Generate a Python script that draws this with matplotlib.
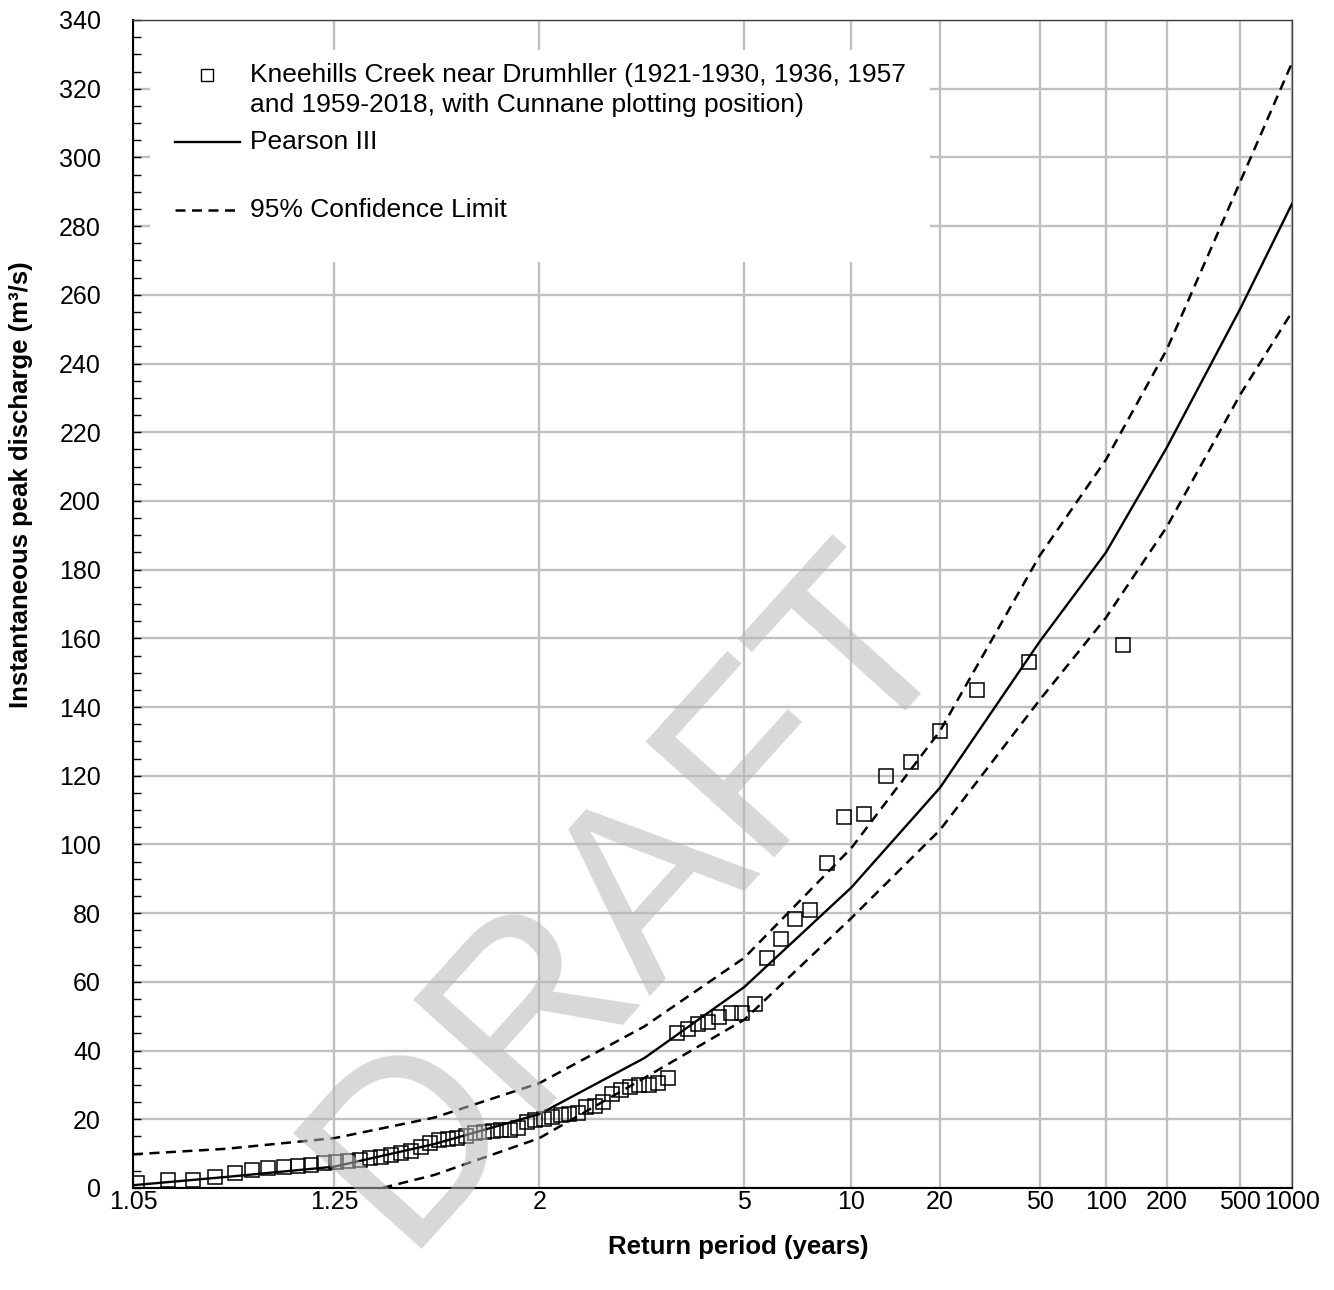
import numpy as np
import matplotlib
matplotlib.use("Agg")
import matplotlib.pyplot as plt
from matplotlib.patches import Rectangle
from matplotlib.ticker import MultipleLocator, NullLocator
from statistics import NormalDist

plt.rcParams['font.family'] = ['Liberation Sans', 'DejaVu Sans']

# Pearson III fit and 95% confidence limits
T_fit = [1.05, 1.11, 1.25, 1.5, 2, 3, 5, 10, 20, 50, 100, 200, 500, 1000]
q_fit = [0.8, 3.2, 6.2, 12.8, 21.5, 37.8, 58.5, 87.5, 116.5, 159, 185, 215.5, 256, 286.5]
q_upper = [9.8, 11.4, 14.5, 20.5, 30.5, 47, 67, 99, 133, 184, 212, 244, 293, 327.5]
T_lower = [1.25, 1.5, 2, 3, 5, 10, 20, 50, 100, 200, 500, 1000]
q_lower = [-3.5, 3.8, 14.5, 32, 49, 78.6, 104.2, 142, 166, 192.4, 231, 255]

# observed annual peaks (Cunnane plotting positions)
T_obs = [120.3, 45.13, 27.77, 20.06, 15.70, 12.89, 10.94, 9.500, 8.395, 7.521,
         6.811, 6.224, 5.730, 5.309, 4.945, 4.628, 4.349, 4.102, 3.882, 3.684,
         3.505, 3.343, 3.195, 3.059, 2.935, 2.820, 2.714, 2.616, 2.524, 2.439,
         2.359, 2.285, 2.215, 2.149, 2.087, 2.028, 1.973, 1.920, 1.870, 1.823,
         1.778, 1.736, 1.695, 1.656, 1.619, 1.583, 1.549, 1.517, 1.486, 1.456,
         1.427, 1.399, 1.373, 1.347, 1.322, 1.299, 1.276, 1.253, 1.232, 1.211,
         1.191, 1.172, 1.153, 1.135, 1.118, 1.101, 1.084, 1.068, 1.052]
q_obs = [158, 153, 145, 133, 124, 120, 109, 108, 94.5, 81,
         78.3, 72.5, 66.9, 53.5, 51, 50.8, 49.9, 48.4, 47.8, 46.2,
         45.2, 31.9, 30.6, 30.1, 30, 29.5, 28.5, 27.4, 25.1, 23.8,
         23.6, 21.8, 21.4, 21.3, 20.8, 20.2, 19.8, 19.3, 17.4, 16.8,
         16.8, 16.6, 16.4, 16, 15.1, 14.5, 14.2, 14, 13, 12,
         10.8, 10.1, 9.6, 9.1, 8.6, 8.1, 7.8, 7.5, 7.2, 6.7,
         6.3, 6.1, 5.8, 5.2, 4.4, 3.3, 2.3, 2.3, 1.5]

x_ticks = [1.05, 1.25, 2, 5, 10, 20, 50, 100, 200, 500, 1000]
x_ticklabels = ['1.05', '1.25', '2', '5', '10', '20', '50', '100', '200', '500', '1000']

nd = NormalDist()
_inv = np.vectorize(nd.inv_cdf, otypes=[float])
_cdf = np.vectorize(nd.cdf, otypes=[float])


def forward(T):
    # return period -> standard normal variate (normal probability paper)
    T = np.asarray(T, dtype=float)
    with np.errstate(divide='ignore', invalid='ignore'):
        p = 1.0 - 1.0 / T
    p = np.where(np.isfinite(p), p, 1e-9)
    p = np.clip(p, 1e-9, 1 - 1e-9)
    return _inv(p)


def inverse(z):
    z = np.asarray(z, dtype=float)
    p = np.clip(_cdf(z), 0, 1 - 1e-12)
    return 1.0 / (1.0 - p)


fig = plt.figure(figsize=(13.34, 12.90), dpi=100)
ax = fig.add_axes([0.0997, 0.0791, 0.8688, 0.9054])
ax.set_xscale('function', functions=(forward, inverse))

grid_c = '#c0c0c0'
ax.set_axisbelow(True)
ax.grid(True, which='major', color=grid_c, linewidth=1.7)

dash = (0, (4, 2.6))
ax.plot(T_fit, q_fit, color='black', linewidth=1.7, zorder=3)
ax.plot(T_fit, q_upper, color='black', linewidth=1.8, linestyle=dash, zorder=3)
ax.plot(T_lower, q_lower, color='black', linewidth=1.8, linestyle=dash, zorder=3)
ax.plot(T_obs, q_obs, linestyle='none', marker='s', markersize=9.5,
        markerfacecolor='none', markeredgecolor='black', markeredgewidth=1.1, zorder=4)

ax.set_xlim(1.05, 1000)
ax.set_ylim(0, 340)
ax.set_xticks(x_ticks)
ax.set_xticklabels(x_ticklabels)
ax.xaxis.set_minor_locator(NullLocator())
ax.yaxis.set_major_locator(MultipleLocator(20))
ax.yaxis.set_minor_locator(MultipleLocator(5))
ax.tick_params(axis='x', length=0, pad=1.5, labelsize=18)
ax.tick_params(axis='y', which='major', direction='in', length=6, width=1, pad=23, labelsize=18)
ax.tick_params(axis='y', which='minor', direction='in', length=6, width=1)

for s in ['left', 'bottom']:
    ax.spines[s].set_color('black')
    ax.spines[s].set_linewidth(1.5)
for s in ['top', 'right']:
    ax.spines[s].set_color('#404040')
    ax.spines[s].set_linewidth(1.0)

ax.set_xlabel('Return period (years)', fontsize=18.5, fontweight='bold')
ax.xaxis.set_label_coords(0.522, -0.040)
ax.set_ylabel('Instantaneous peak discharge (m³/s)', fontsize=18.5, fontweight='bold')
ax.yaxis.set_label_coords(-0.086, 0.602)

# legend (white box over the grid)
ax.add_patch(Rectangle((0.0147, 0.793), 0.673, 0.1815, transform=ax.transAxes,
                       facecolor='white', edgecolor='none', zorder=2.5))
ax.plot([0.0638], [0.9529], transform=ax.transAxes, marker='s', markersize=8,
        markerfacecolor='none', markeredgecolor='black', markeredgewidth=1.0, zorder=5)
ax.text(0.1010, 0.9400, 'Kneehills Creek near Drumhller (1921-1930, 1936, 1957\n'
        'and 1959-2018, with Cunnane plotting position)',
        transform=ax.transAxes, fontsize=19, va='center', ha='left', linespacing=1.31, zorder=5)
ax.plot([0.0362, 0.0923], [0.8955, 0.8955], transform=ax.transAxes,
        color='black', linewidth=1.7, zorder=5)
ax.text(0.1010, 0.8955, 'Pearson III', transform=ax.transAxes, fontsize=19,
        va='center', ha='left', zorder=5)
ax.plot([0.0362, 0.0923], [0.8373, 0.8373], transform=ax.transAxes,
        color='black', linewidth=1.8, linestyle=dash, zorder=5)
ax.text(0.1010, 0.8373, '95% Confidence Limit', transform=ax.transAxes, fontsize=19,
        va='center', ha='left', zorder=5)

# watermark
ax.text(0.4300, 0.2500, 'DRAFT', transform=ax.transAxes, fontsize=180,
        color='#b8b8b8', alpha=0.55, rotation=48, ha='center', va='center',
        rotation_mode='anchor', zorder=10)

fig.savefig('out.png', dpi=100)
